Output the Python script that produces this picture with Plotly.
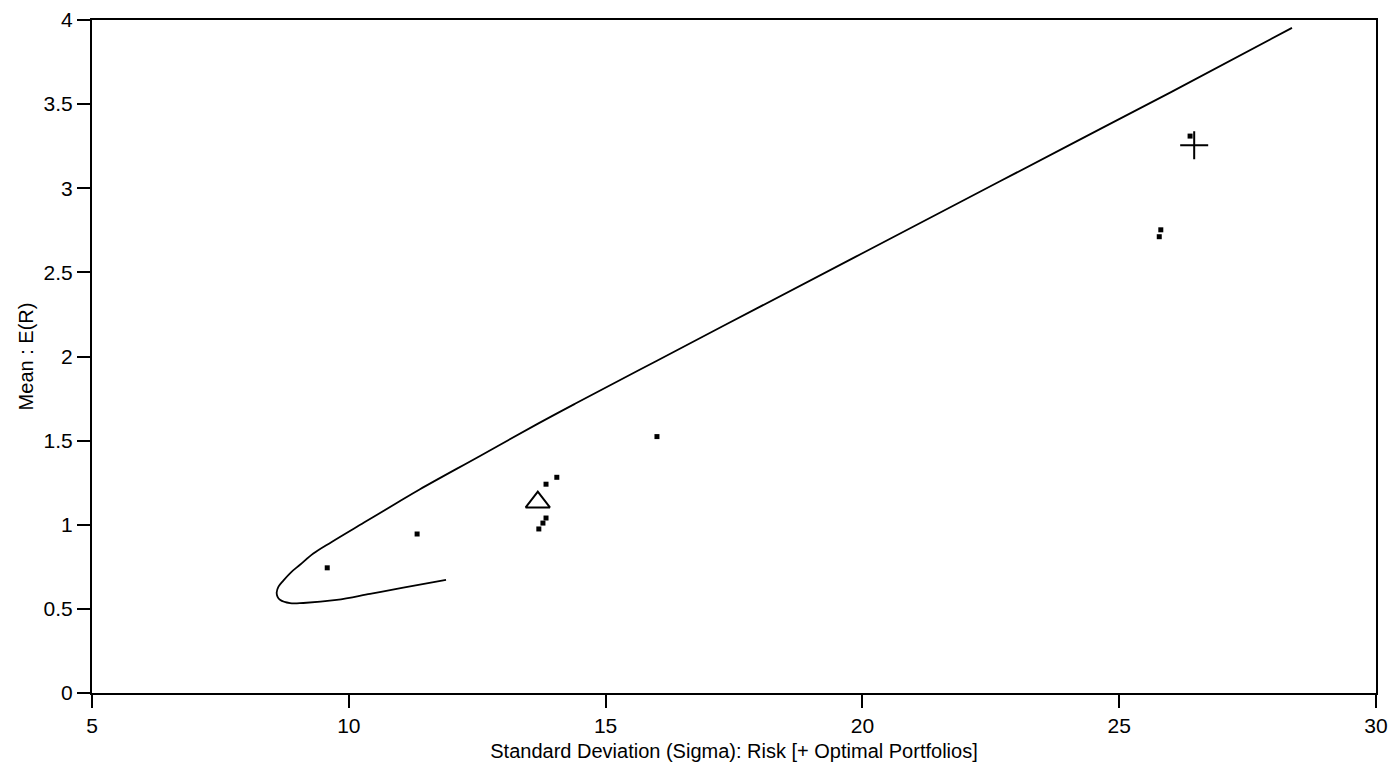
import plotly.graph_objects as go

# Efficient frontier curve (sigma, mean):
# lower branch (right end -> tip), then upper branch (tip -> top right)
frontier_sigma = [11.893, 11.061, 10.413, 9.764, 9.114, 8.855, 8.660, 8.611, 8.596,
                  8.631, 8.725, 8.870, 9.050, 9.309, 9.667, 10.296, 10.933, 11.386, 12.555,
                  13.684, 14.404, 16.0, 18.0, 20.0, 22.0, 24.0, 26.0, 28.364]
frontier_mean = [0.672, 0.626, 0.589, 0.553, 0.535, 0.534, 0.554, 0.573, 0.597,
                 0.632, 0.668, 0.716, 0.762, 0.829, 0.898, 1.013, 1.129, 1.211, 1.409,
                 1.601, 1.719, 1.975, 2.295, 2.614, 2.933, 3.252, 3.570, 3.953]

# Individual assets (small squares)
asset_sigma = [9.58, 11.33, 13.70, 13.78, 13.84, 13.84, 14.05, 16.0, 25.78, 25.81, 26.38]
asset_mean = [0.744, 0.945, 0.975, 1.010, 1.040, 1.241, 1.282, 1.524, 2.712, 2.753, 3.31]

# Optimal portfolios
tri_sigma = [13.68]
tri_mean = [1.134]
plus_sigma = [26.46]
plus_mean = [3.256]

x_ticks = [5, 10, 15, 20, 25, 30]
y_ticks = [0, 0.5, 1, 1.5, 2, 2.5, 3, 3.5, 4]
y_tick_text = ["0", "0.5", "1", "1.5", "2", "2.5", "3", "3.5", "4"]

FONT = "Liberation Sans, Arial, sans-serif"

fig = go.Figure()
fig.add_trace(go.Scatter(x=frontier_sigma, y=frontier_mean, mode="lines",
                         line=dict(color="black", width=1.8, shape="spline", smoothing=1.0),
                         showlegend=False))
fig.add_trace(go.Scatter(x=asset_sigma, y=asset_mean, mode="markers",
                         marker=dict(symbol="square", size=5, color="black"), showlegend=False))
fig.add_trace(go.Scatter(x=tri_sigma, y=tri_mean, mode="markers",
                         marker=dict(symbol="triangle-up-open", size=21, color="black",
                                     line=dict(width=2, color="black")), showlegend=False))
fig.add_trace(go.Scatter(x=plus_sigma, y=plus_mean, mode="markers",
                         marker=dict(symbol="cross-thin-open", size=20, color="black",
                                     line=dict(width=2, color="black")), showlegend=False))

axis_font = dict(family=FONT, size=21, color="black")
title_font = dict(family=FONT, size=20, color="black")
# The page body has an 8px default margin, so the figure is sized/offset to compensate.
fig.update_layout(
    template="none",
    width=1391, height=775,
    margin=dict(l=84, r=23, t=12, b=90),
    paper_bgcolor="white", plot_bgcolor="white",
    font=dict(family=FONT, color="black"),
    xaxis=dict(range=[5, 30], tickvals=x_ticks, ticks="outside", ticklen=13, tickwidth=2,
               tickcolor="black", showline=True, linecolor="black", linewidth=2, mirror=True,
               showgrid=False, zeroline=False, tickfont=axis_font, automargin=False,
               ticklabeloverflow="allow",
               title=dict(text="Standard Deviation (Sigma): Risk [+ Optimal Portfolios]",
                          font=title_font, standoff=8)),
    yaxis=dict(range=[0, 4], tickvals=y_ticks, ticktext=y_tick_text, ticks="outside", ticklen=13,
               tickwidth=2, tickcolor="black", showline=True, linecolor="black", linewidth=2,
               mirror=True, showgrid=False, zeroline=False, tickfont=axis_font, automargin=False,
               ticklabeloverflow="allow",
               title=dict(text="Mean : E(R)", font=title_font, standoff=5)),
)
fig.write_html("out.html")
